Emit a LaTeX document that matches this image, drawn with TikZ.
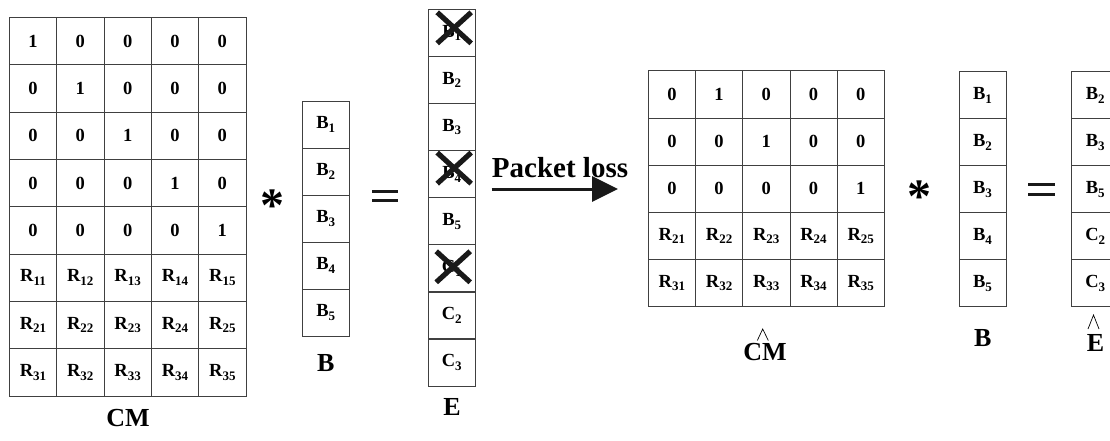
\documentclass[tikz,border=0pt]{standalone}
\usepackage{fontspec}
\setmainfont{Liberation Serif}
\usetikzlibrary{arrows.meta}
\newcommand\cellfont{\fontsize{18.5}{18.5}\selectfont\bfseries}
\newcommand\subidx[1]{\raisebox{-0.2em}{\fontsize{13}{13}\selectfont\bfseries #1}}
\begin{document}
\begin{tikzpicture}[x=1pt,y=-1pt,
  cell/.style={draw=black!75, line width=0.8pt, minimum width=47.2pt,
    minimum height=47.2pt, inner sep=0pt, font=\cellfont},
  lbl/.style={font=\fontsize{26}{26}\selectfont\bfseries, anchor=base, inner sep=0pt},
  opsym/.style={font=\fontsize{48}{48}\selectfont\bfseries, anchor=base, inner sep=0pt},
  cross/.style={line width=5.2pt, black!90},
  eqbar/.style={line width=3pt, black!90},
  hatline/.style={line width=0.7pt, black}]
\useasboundingbox (0,0) rectangle (1110,440);

% coding matrix CM: identity on top, redundancy rows below
\foreach \r in {1,...,8}{
  \foreach \c in {1,...,5}{
    \pgfmathtruncatemacro\k{\r-1-4}
    \node[cell] (cm-\r-\c) at ({9.3+47.34*(\c-0.5)},{17.3+47.34*(\r-0.5)})
      {\ifnum\r>5 R\subidx{\k\c}\else\ifnum\r=\c\relax 1\else 0\fi\fi};
  }
}
\node[lbl] (cm-label) at (128,426.7) {CM};

% multiplication sign and source vector B
\node[opsym] (mul-a) at (272,221) {*};
\foreach \i in {1,...,5}{
  \node[cell] (b-\i) at (325.7,{101+47*(\i-0.5)}) {B\subidx{\i}};
}
\node[lbl] (b-label) at (325.7,371.7) {B};

% equals sign
\draw[eqbar] (372,191) -- (398,191);
\draw[eqbar] (372,200) -- (398,200);

% encoded vector E with lost packets
\foreach \i/\t in {1/B\subidx{1},2/B\subidx{2},3/B\subidx{3},4/B\subidx{4},
                   5/B\subidx{5},6/C\subidx{1},7/C\subidx{2},8/C\subidx{3}}{
  \node[cell] (e-\i) at (451.7,{9.3+47.09*(\i-0.5)}) {\t};
}
\node[lbl] (e-label) at (452,415) {E};
\foreach \i/\dx/\dy in {1/2.5/-5, 4/2.5/-6, 6/1.5/-1.5}{
  \draw[cross] ([shift={(\dx-17,\dy-15.5)}]e-\i.center) -- ([shift={(\dx+17,\dy+15.5)}]e-\i.center);
  \draw[cross] ([shift={(\dx+17,\dy-15.5)}]e-\i.center) -- ([shift={(\dx-17,\dy+15.5)}]e-\i.center);
}

% packet loss arrow
\coordinate (pl-start) at (491.7,189);
\coordinate (pl-end) at (618,189);
\draw[line width=3pt, black!90, -{Triangle[length=26pt,width=25pt]}] (pl-start) -- (pl-end);
\node[font=\fontsize{29}{29}\selectfont\bfseries, anchor=base, inner sep=0pt] (pl-text) at (560,177) {Packet loss};

% reduced matrix of the received rows
\foreach \r/\one in {1/2,2/3,3/5,4/0,5/0}{
  \foreach \c in {1,...,5}{
    \pgfmathtruncatemacro\k{\r-2}
    \node[cell] (cmh-\r-\c) at ({648.3+47.2*(\c-0.5)},{70.7+47.2*(\r-0.5)})
      {\ifnum\r>3 R\subidx{\k\c}\else\ifnum\one=\c\relax 1\else 0\fi\fi};
  }
}
\node[lbl] (cmh-label) at (765,360) {CM};
\draw[hatline] (757.3,340.5) -- (762.7,329) -- (768.3,340.5);

% second product
\node[opsym] (mul-b) at (919,212) {*};
\foreach \i in {1,...,5}{
  \node[cell] (bb-\i) at (982.5,{71.7+47*(\i-0.5)}) {B\subidx{\i}};
}
\node[lbl] (bb-label) at (982.7,346.7) {B};
\draw[eqbar] (1028,184.3) -- (1055,184.3);
\draw[eqbar] (1028,194) -- (1055,194);

% received vector
\foreach \i/\t in {1/B\subidx{2},2/B\subidx{3},3/B\subidx{5},4/C\subidx{2},5/C\subidx{3}}{
  \node[cell] (eh-\i) at (1095.3,{71.7+47*(\i-0.5)}) {\t};
}
\node[lbl] (eh-label) at (1095.5,351.7) {E};
\draw[hatline] (1088,329) -- (1093.5,315) -- (1099,329);
\end{tikzpicture}
\end{document}
